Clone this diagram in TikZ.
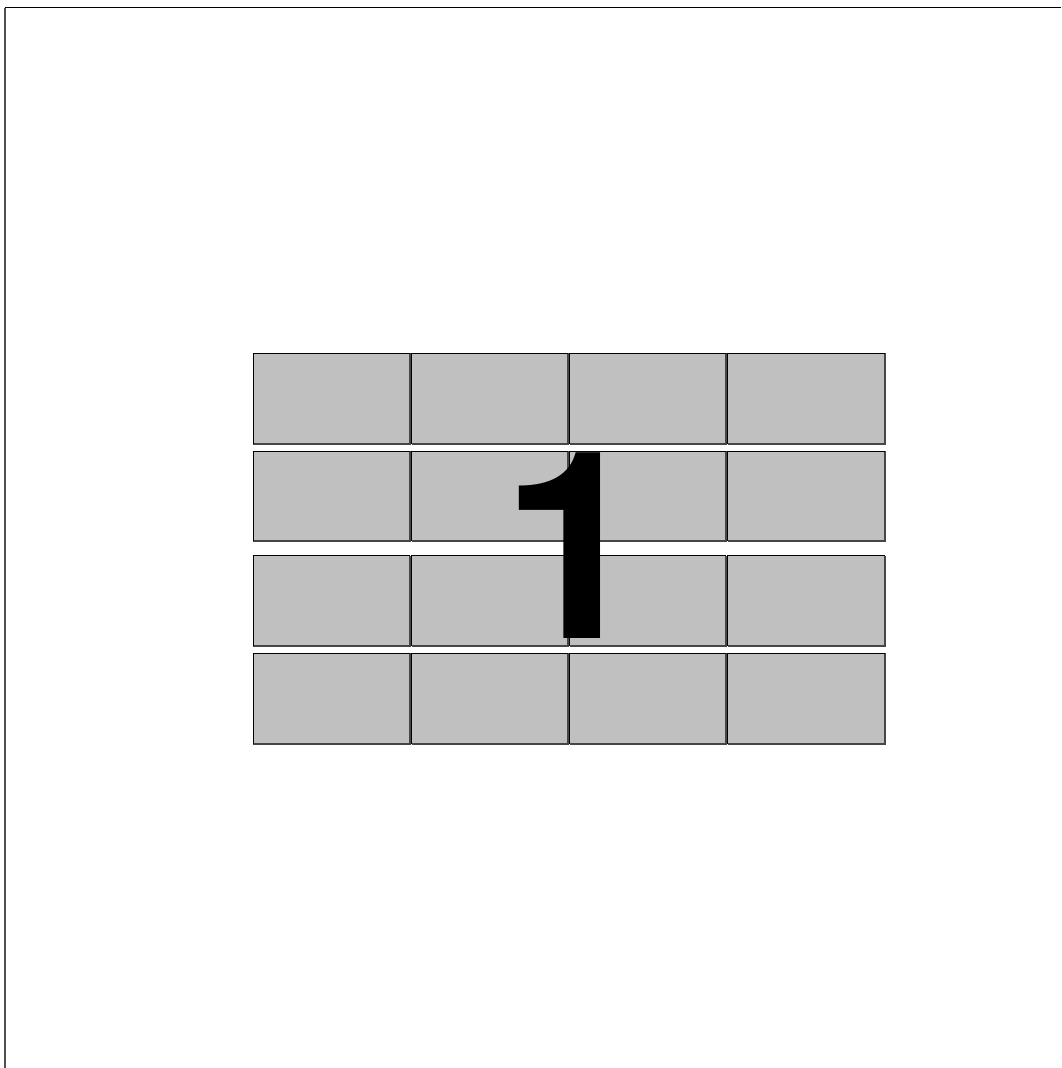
\documentclass[tikz,border=0pt]{standalone}
\usepackage{fontspec}
\setmainfont{TeX Gyre Heros}
\newfontfamily\digitfont{TeX Gyre Heros}
\definecolor{cellgray}{RGB}{192,192,192}
\definecolor{edgedark}{RGB}{70,70,70}
\definecolor{framegray}{RGB}{80,80,80}
\begin{document}
\begin{tikzpicture}[x=1pt,y=-1pt,
  cell/.style={fill=cellgray, inner sep=0pt, anchor=north west, outer sep=0pt},
  shadeedge/.style={draw=edgedark, line width=1.6pt},
  litedge/.style={draw=black, line width=0.8pt},
  framestyle/.style={line width=1.4pt},
  digit/.style={font=\digitfont\bfseries\fontsize{262}{262}\selectfont, inner sep=0pt, text=black}]
\useasboundingbox (0,0) rectangle (1061,1068);
\fill[white] (0,0) rectangle (1061,1068);
% frame
\coordinate (fa) at (5,1068);
\coordinate (fb) at (5,7.5);
\coordinate (fc) at (1061,7.5);
\draw[framestyle, draw=framegray] (fa) -- (fb);
\draw[framestyle, draw=black] (fb) -- (fc);
% cells
\foreach \yy/\hh [count=\r] in {353/91, 451/90, 555.5/90.5, 653/91} {
  \foreach \xx/\ww [count=\c] in {253/157, 411.5/156.5, 569.5/156.5, 727.5/157.5} {
    \node[cell, minimum width=\ww pt, minimum height=\hh pt] (c\r\c) at (\xx,\yy) {};
    \draw[shadeedge] (c\r\c.north east) -- (c\r\c.south east) -- (c\r\c.south west);
    \draw[litedge] (c\r\c.south west) -- (c\r\c.north west) -- (c\r\c.north east);
  }
}
% digit
\node[digit, anchor=base west] (one) at (501.5,638) {1};
\end{tikzpicture}
\end{document}
